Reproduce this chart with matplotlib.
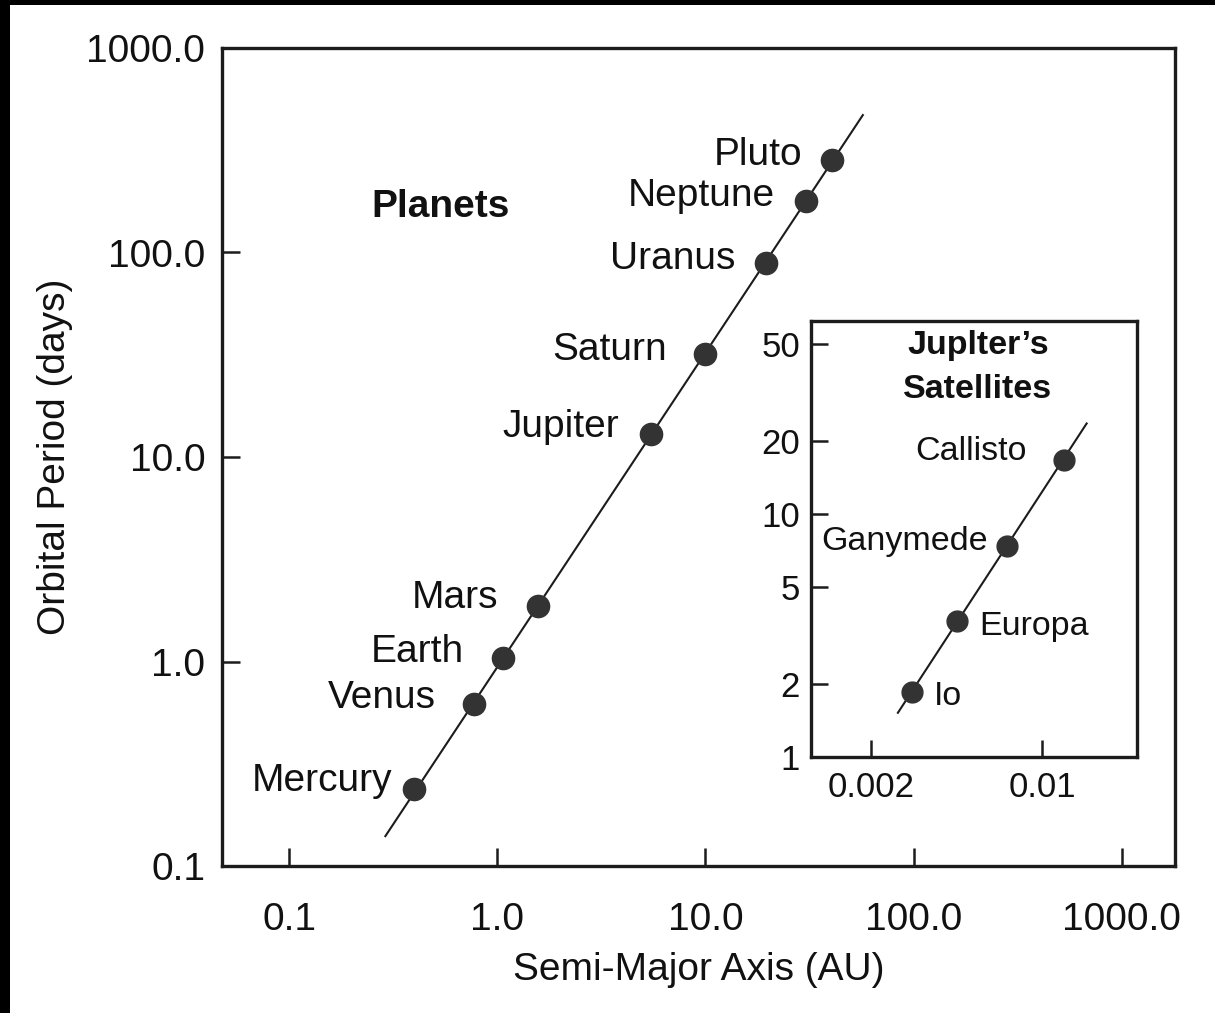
import matplotlib
matplotlib.use("Agg")
import matplotlib.pyplot as plt
from matplotlib.patches import Rectangle

plt.rcParams['font.family'] = ['Liberation Sans', 'DejaVu Sans']

# ---- data ----
planets = ["Mercury", "Venus", "Earth", "Mars", "Jupiter", "Saturn", "Uranus", "Neptune", "Pluto"]
planet_a = [0.40, 0.77, 1.06, 1.57, 5.5, 9.9, 19.6, 30.3, 40.3]
planet_p = [0.237, 0.62, 1.04, 1.87, 13.0, 32.0, 89.0, 178.0, 283.0]
planet_fit_a = [0.29, 57.0]
planet_fit_p = [0.14, 470.0]

moons = ["Io", "Europa", "Ganymede", "Callisto"]
moon_a = [0.00294, 0.00449, 0.00718, 0.0123]
moon_p = [1.85, 3.63, 7.4, 16.7]
moon_fit_a = [0.00258, 0.0152]
moon_fit_p = [1.52, 23.5]

main_ticks = [0.1, 1.0, 10.0, 100.0, 1000.0]
main_ticklabels = ["0.1", "1.0", "10.0", "100.0", "1000.0"]
inset_yticks = [1, 2, 5, 10, 20, 50]
inset_yticklabels = ["1", "2", "5", "10", "20", "50"]
inset_xticks = [0.002, 0.01]
inset_xticklabels = ["0.002", "0.01"]

# label offsets in points (dx, dy, ha)
planet_offsets = [(-16, 6, 'right'), (-27, 4, 'right'), (-28, 4, 'right'), (-29, 6, 'right'),
                  (-23, 5, 'right'), (-27, 3, 'right'), (-22, 3, 'right'), (-22, 4, 'right'),
                  (-21, 4, 'right')]
moon_offsets = [(16, -3, 'left'), (16, -4, 'left'), (-14, 3, 'right'), (-27, 6, 'right')]

INK = '#1c1c1c'
DOT = '#333333'

fig = plt.figure(figsize=(12.15, 10.13), dpi=100)
fig.patch.set_facecolor('white')

# black frame edges (top and left) as in the scan
fig.patches.append(Rectangle((0, 1 - 5 / 1013), 1, 5 / 1013, transform=fig.transFigure,
                             facecolor='black', edgecolor='none', zorder=10))
fig.patches.append(Rectangle((0, 0), 10 / 1215, 1, transform=fig.transFigure,
                             facecolor='black', edgecolor='none', zorder=10))

ax = fig.add_axes([222 / 1215, 1 - 866 / 1013, (1175 - 222) / 1215, (866 - 48) / 1013])
ax.set_xscale('log')
ax.set_yscale('log')
ax.set_xlim(0.0476, 1800)
ax.set_ylim(0.1, 1000)
ax.plot(planet_fit_a, planet_fit_p, color=INK, lw=1.5, zorder=2)
ax.plot(planet_a, planet_p, 'o', ms=16, color=DOT, mec=DOT, zorder=3)
for name, a, p, (dx, dy, ha) in zip(planets, planet_a, planet_p, planet_offsets):
    ax.annotate(name, (a, p), xytext=(dx, dy), textcoords='offset points',
                ha=ha, va='center', fontsize=28, color='#111111')
ax.text(0.229, 0.806, "Planets", transform=ax.transAxes, ha='center', va='center',
        fontsize=28, fontweight='bold', color='#111111')

ax.set_xticks(main_ticks)
ax.set_xticklabels(main_ticklabels)
ax.set_yticks(main_ticks)
ax.set_yticklabels(main_ticklabels)
ax.minorticks_off()
ax.tick_params(axis='both', direction='in', length=13, width=1.8, color=INK,
               labelsize=28, labelcolor='#111111')
ax.tick_params(axis='x', pad=26)
ax.tick_params(axis='y', pad=12)
for s in ax.spines.values():
    s.set_linewidth(2.4)
    s.set_color(INK)
ax.set_xlabel("Semi-Major Axis (AU)", fontsize=28, color='#111111', labelpad=10)
ax.set_ylabel("Orbital Period (days)", fontsize=28, color='#111111', labelpad=10)

# inset
ins = fig.add_axes([811 / 1215, 1 - 757 / 1013, (1137 - 811) / 1215, (757 - 321) / 1013])
ins.set_xscale('log')
ins.set_yscale('log')
ins.set_xlim(0.00114, 0.0244)
ins.set_ylim(1, 62)
ins.plot(moon_fit_a, moon_fit_p, color=INK, lw=1.5, zorder=2)
ins.plot(moon_a, moon_p, 'o', ms=15, color=DOT, mec=DOT, zorder=3)
for name, a, p, (dx, dy, ha) in zip(moons, moon_a, moon_p, moon_offsets):
    ins.annotate(name, (a, p), xytext=(dx, dy), textcoords='offset points',
                 ha=ha, va='center', fontsize=24.5, color='#111111')
ins.text(0.512, 0.893, "Juplter\u2019s\nSatellites", transform=ins.transAxes, ha='center',
         va='center', fontsize=24.5, fontweight='bold', color='#111111', linespacing=1.55)
ins.set_xticks(inset_xticks)
ins.set_xticklabels(inset_xticklabels)
ins.set_yticks(inset_yticks)
ins.set_yticklabels(inset_yticklabels)
ins.minorticks_off()
ins.tick_params(axis='both', direction='in', length=12, width=1.8, color=INK,
                labelsize=25, labelcolor='#111111')
ins.tick_params(axis='x', pad=10)
ins.tick_params(axis='y', pad=8)
for s in ins.spines.values():
    s.set_linewidth(2.4)
    s.set_color(INK)

fig.savefig("out.png", dpi=100)
